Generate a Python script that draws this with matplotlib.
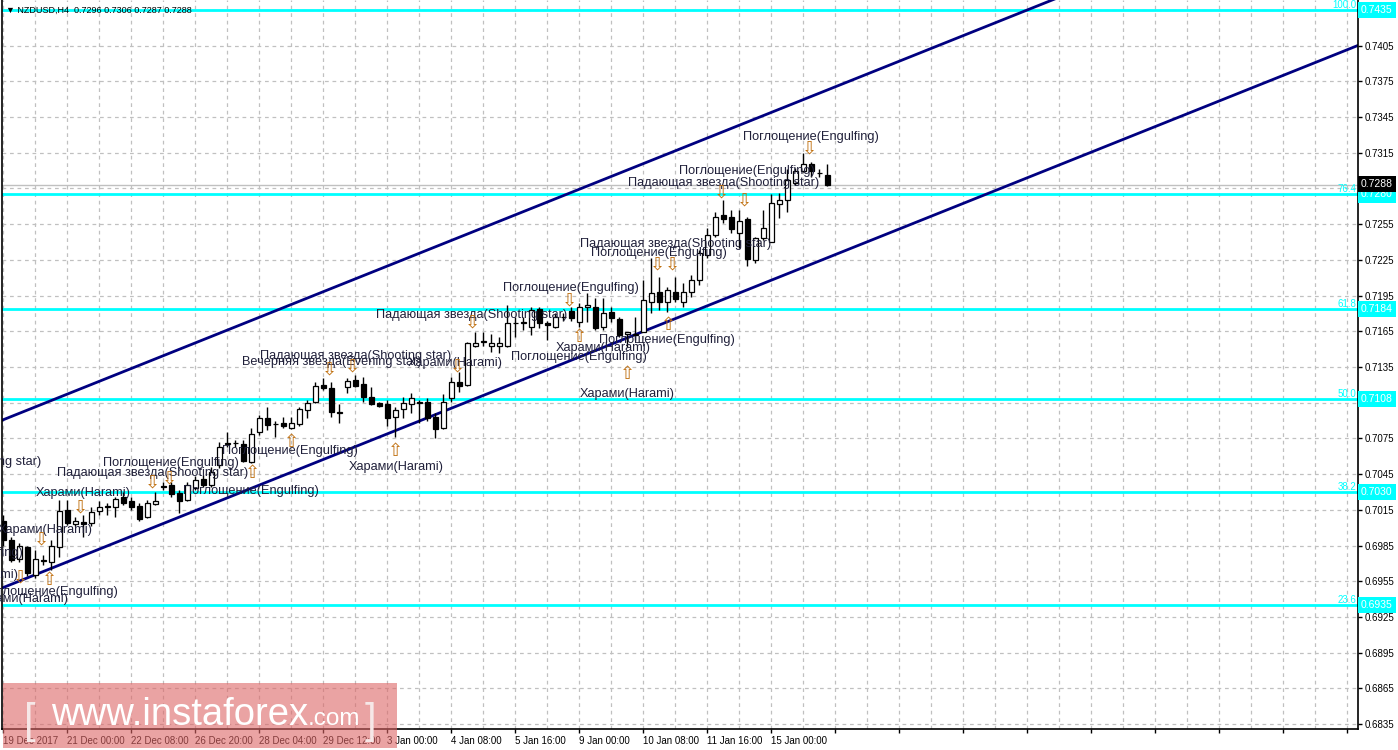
import matplotlib
matplotlib.use('Agg')
import matplotlib.pyplot as plt
import matplotlib.transforms as mtransforms
from matplotlib.patches import Rectangle
import numpy as np

# NZDUSD H4 candles (oldest first)
opens = [0.7006, 0.6990, 0.6974, 0.6984, 0.6960, 0.6972, 0.6971, 0.6984, 0.7015, 0.7003,
         0.7005, 0.7004, 0.7014, 0.7017, 0.7017, 0.7026, 0.7022, 0.7018, 0.7009, 0.7020,
         0.7034, 0.7036, 0.7029, 0.7023, 0.7033, 0.7041, 0.7036, 0.7053, 0.7070, 0.7071,
         0.7070, 0.7055, 0.7080, 0.7092, 0.7087, 0.7088, 0.7084, 0.7087, 0.7099, 0.7106,
         0.7120, 0.7117, 0.7096, 0.7118, 0.7124, 0.7121, 0.7110, 0.7105, 0.7104, 0.7093,
         0.7100, 0.7104, 0.7106, 0.7106, 0.7093, 0.7084, 0.7109, 0.7122, 0.7120, 0.7153,
         0.7156, 0.7153, 0.7153, 0.7153, 0.7172, 0.7172, 0.7169, 0.7184, 0.7172, 0.7169,
         0.7177, 0.7182, 0.7173, 0.7185, 0.7185, 0.7169, 0.7181, 0.7175, 0.7163, 0.7162,
         0.7164, 0.7190, 0.7198, 0.7190, 0.7198, 0.7190, 0.7198, 0.7208, 0.7229, 0.7246,
         0.7263, 0.7261, 0.7248, 0.7259, 0.7225, 0.7243, 0.7240, 0.7272, 0.7275, 0.7290,
         0.7300, 0.7306, 0.7298, 0.7296]
highs = [0.7011, 0.6992, 0.6987, 0.6985, 0.6981, 0.6977, 0.6990, 0.7023, 0.7023, 0.7009,
         0.7011, 0.7017, 0.7022, 0.7021, 0.7026, 0.7030, 0.7026, 0.7021, 0.7023, 0.7030,
         0.7038, 0.7038, 0.7032, 0.7038, 0.7043, 0.7044, 0.7051, 0.7072, 0.7080, 0.7074,
         0.7074, 0.7084, 0.7095, 0.7101, 0.7090, 0.7093, 0.7093, 0.7101, 0.7107, 0.7122,
         0.7126, 0.7122, 0.7104, 0.7126, 0.7128, 0.7127, 0.7118, 0.7106, 0.7107, 0.7101,
         0.7110, 0.7113, 0.7107, 0.7109, 0.7096, 0.7112, 0.7127, 0.7131, 0.7156, 0.7164,
         0.7164, 0.7163, 0.7160, 0.7187, 0.7177, 0.7177, 0.7185, 0.7185, 0.7174, 0.7180,
         0.7180, 0.7185, 0.7189, 0.7197, 0.7193, 0.7193, 0.7185, 0.7177, 0.7164, 0.7177,
         0.7208, 0.7227, 0.7211, 0.7202, 0.7211, 0.7206, 0.7212, 0.7233, 0.7252, 0.7265,
         0.7275, 0.7267, 0.7267, 0.7261, 0.7244, 0.7267, 0.7280, 0.7281, 0.7301, 0.7302,
         0.7315, 0.7307, 0.7301, 0.7306]
lows = [0.6985, 0.6971, 0.6971, 0.6959, 0.6958, 0.6969, 0.6964, 0.6975, 0.7002, 0.7001,
        0.6992, 0.7001, 0.7011, 0.7011, 0.7009, 0.7019, 0.7015, 0.7006, 0.7008, 0.7019,
        0.7032, 0.7026, 0.7012, 0.7022, 0.7032, 0.7034, 0.7034, 0.7050, 0.7068, 0.7068,
        0.7055, 0.7054, 0.7078, 0.7082, 0.7076, 0.7084, 0.7083, 0.7085, 0.7092, 0.7105,
        0.7116, 0.7093, 0.7088, 0.7113, 0.7118, 0.7106, 0.7103, 0.7101, 0.7085, 0.7076,
        0.7092, 0.7096, 0.7088, 0.7090, 0.7075, 0.7083, 0.7106, 0.7114, 0.7119, 0.7152,
        0.7153, 0.7148, 0.7147, 0.7152, 0.7160, 0.7166, 0.7162, 0.7168, 0.7158, 0.7168,
        0.7174, 0.7174, 0.7169, 0.7173, 0.7166, 0.7166, 0.7173, 0.7160, 0.7152, 0.7158,
        0.7164, 0.7180, 0.7183, 0.7181, 0.7190, 0.7185, 0.7194, 0.7204, 0.7227, 0.7244,
        0.7256, 0.7248, 0.7235, 0.7220, 0.7222, 0.7242, 0.7240, 0.7260, 0.7265, 0.7288,
        0.7299, 0.7295, 0.7295, 0.7287]
closes = [0.6990, 0.6973, 0.6985, 0.6962, 0.6974, 0.6973, 0.6985, 0.7014, 0.7004, 0.7006,
          0.7003, 0.7013, 0.7017, 0.7018, 0.7024, 0.7021, 0.7017, 0.7007, 0.7021, 0.7022,
          0.7035, 0.7028, 0.7022, 0.7036, 0.7040, 0.7036, 0.7047, 0.7068, 0.7071, 0.7071,
          0.7056, 0.7079, 0.7092, 0.7086, 0.7087, 0.7085, 0.7088, 0.7100, 0.7105, 0.7119,
          0.7117, 0.7097, 0.7097, 0.7123, 0.7119, 0.7110, 0.7104, 0.7102, 0.7092, 0.7099,
          0.7105, 0.7109, 0.7105, 0.7092, 0.7083, 0.7106, 0.7122, 0.7119, 0.7155, 0.7155,
          0.7157, 0.7155, 0.7155, 0.7172, 0.7172, 0.7173, 0.7183, 0.7172, 0.7170, 0.7177,
          0.7177, 0.7176, 0.7185, 0.7187, 0.7168, 0.7180, 0.7176, 0.7162, 0.7164, 0.7163,
          0.7191, 0.7197, 0.7190, 0.7200, 0.7192, 0.7198, 0.7208, 0.7231, 0.7246, 0.7261,
          0.7259, 0.7251, 0.7258, 0.7226, 0.7243, 0.7252, 0.7273, 0.7275, 0.7292, 0.7300,
          0.7306, 0.7300, 0.7298, 0.7288]

tick_bars = [0, 8, 16, 24, 32, 40, 48, 56, 64, 72, 80, 88, 96]
tick_labels = ['19 Dec 2017', '21 Dec 00:00', '22 Dec 08:00', '26 Dec 20:00', '28 Dec 04:00',
               '29 Dec 12:00', '3 Jan 00:00', '4 Jan 08:00', '5 Jan 16:00', '9 Jan 00:00',
               '10 Jan 08:00', '11 Jan 16:00', '15 Jan 00:00']

fib_levels = [0.7435, 0.7280, 0.7184, 0.7108, 0.7030, 0.6935]
fib_names = ['100.0', '76.4', '61.8', '50.0', '38.2', '23.6']
last_price = 0.7288

# trend channel (bar, price) end points
channel_bars = [-1, 170]
channel_lower = [0.6947, 0.7407]
channel_upper = [0.7088, 0.7548]

SS = 'Падающая звезда(Shooting star)'
EN = 'Поглощение(Engulfing)'
HA = 'Харами(Harami)'
ES = 'Вечерняя звезда(Evening star)'
pattern_names = [SS, EN, SS, HA, EN, HA, EN, HA, EN, HA, EN, SS, ES, HA, SS, HA,
                 EN, SS, EN, EN, HA, EN, HA, EN, EN, SS]
pattern_bars = [-7.2, 21.0, 18.7, 10.0, 31.0, 5.3, -6.0, -4.0, 5.8, 2.2, 35.8, 44.0, 41.1, 56.5, 58.5, 49.1,
                71.0, 84.0, 82.0, 83.0, 75.0, 72.0, 78.0, 101.0, 93.0, 90.0]
pattern_prices = [0.7055, 0.7054, 0.7046, 0.7029, 0.7031, 0.6998, 0.6979, 0.6960, 0.6946, 0.6940,
                  0.7064, 0.7144, 0.7139, 0.7138, 0.7179, 0.7051, 0.7201, 0.7238, 0.7231, 0.7158,
                  0.7151, 0.7143, 0.7112, 0.7328, 0.7300, 0.7290]

down_bars = [18.7, 20.8, 9.7, 4.8, 2.1, 40.8, 43.7, 56.8, 58.7, 70.8, 81.8, 83.7, 89.8, 92.7, 100.8]
down_prices = [0.7038, 0.7041, 0.7017, 0.6990, 0.6958, 0.7133, 0.7135, 0.7135, 0.7172, 0.7191,
               0.7221, 0.7221, 0.7282, 0.7275, 0.7319]
up_bars = [31.1, 5.8, 36.0, 49.0, 72.0, 83.1, 78.0]
up_prices = [0.7046, 0.6956, 0.7072, 0.7064, 0.7160, 0.7170, 0.7129]

W, H = 1398, 750
fig = plt.figure(figsize=(W / 100, H / 100), dpi=100)
fig.patch.set_facecolor('white')
ax = fig.add_axes([2 / W, 21 / H, 1356 / W, 729 / H])
ax.set_facecolor('white')
ax.set_xlim(-0.16, 169.34)
ax.set_ylim(0.68308, 0.74434)

fonts = ['Liberation Sans', 'DejaVu Sans']

# grid and ticks
major_x = list(range(0, 169, 8))
ax.set_xticks(major_x)
ax.set_xticklabels([tick_labels[tick_bars.index(b)] if b in tick_bars else '' for b in major_x],
                   ha='left', fontsize=7, family=fonts)
ax.set_xticks(list(range(4, 169, 8)), minor=True)
yt = [round(0.6835 + 0.003 * k, 4) for k in range(21)]
ax.set_yticks(yt)
# labels hidden behind the price boxes in MT4 are left out
ax.set_yticklabels(['' if v in (0.7435, 0.7285) else '%.4f' % v for v in yt],
                   fontsize=7, family=fonts)
ax.yaxis.tick_right()
ax.tick_params(axis='both', which='major', length=3, width=1, color='black', pad=2)
ax.tick_params(axis='x', which='minor', length=0)
ax.grid(True, which='both', axis='x', color='#c0c0c0', linestyle=(0, (3, 3)), linewidth=0.9)
ax.grid(True, which='major', axis='y', color='#c0c0c0', linestyle=(0, (3, 3)), linewidth=0.9)
ax.set_axisbelow(True)
for s in ['left', 'bottom', 'right']:
    ax.spines[s].set_color('black')
    ax.spines[s].set_linewidth(1.2)
ax.spines['top'].set_visible(False)

# bid line and fibo levels
ax.axhline(last_price, color='#c0c0c0', lw=1, zorder=1.5)
for lv in fib_levels:
    ax.axhline(lv, color='#00ffff', lw=2, zorder=1.6)

# channel
ax.plot(channel_bars, channel_lower, color='#000080', lw=2, zorder=1.7)
ax.plot(channel_bars, channel_upper, color='#000080', lw=2, zorder=1.7)

# candles
o = np.array(opens); h = np.array(highs); l = np.array(lows); c = np.array(closes)
xs = np.arange(len(o))
ax.vlines(xs, l, h, color='black', lw=1, zorder=3)
bull = c >= o
body_bot = np.minimum(o, c)
body_h = np.maximum(np.abs(c - o), 0.00002)
ax.bar(xs[bull], body_h[bull], bottom=body_bot[bull], width=0.62, color='white',
       edgecolor='black', linewidth=0.9, zorder=4)
ax.bar(xs[~bull], body_h[~bull], bottom=body_bot[~bull], width=0.62, color='black',
       edgecolor='black', linewidth=0.9, zorder=4)

# pattern labels and arrows
for name, b, p in zip(pattern_names, pattern_bars, pattern_prices):
    ax.text(b, p, name, ha='center', va='center', fontsize=9.2, color='#20203a',
            family=fonts, zorder=5)
for b, p in zip(down_bars, down_prices):
    ax.text(b, p, '\u21e9', ha='center', va='center', fontsize=13, color='#c07010',
            family=['DejaVu Sans'], zorder=5)
for b, p in zip(up_bars, up_prices):
    ax.text(b, p, '\u21e7', ha='center', va='center', fontsize=13, color='#c07010',
            family=['DejaVu Sans'], zorder=5)

# right side labels
trans = mtransforms.blended_transform_factory(ax.transAxes, ax.transData)
for lv, nm in zip(fib_levels, fib_names):
    ax.text(1 - 2 / 1356, lv, nm, transform=trans, ha='right', va='bottom', fontsize=7,
            color='#00ffff', family=fonts, zorder=6)
    ax.text(1 + 3 / 1356, lv, '%.4f' % lv, transform=trans, ha='left', va='center',
            fontsize=7.5, color='white', family=fonts, clip_on=False, zorder=7,
            bbox=dict(boxstyle='square,pad=0.3', fc='#00ffff', ec='none'))
ax.text(1 + 3 / 1356, last_price + 0.00008, '%.4f' % last_price, transform=trans, ha='left',
        va='center', fontsize=7.5, color='white', family=fonts, clip_on=False, zorder=7,
        bbox=dict(boxstyle='square,pad=0.3', fc='black', ec='none'))

# header
fig.text(6 / W, 1 - 10 / H, '\u25bc NZDUSD,H4  0.7296 0.7306 0.7287 0.7288', fontsize=6.5,
         color='black', va='center', ha='left', family=fonts)

# watermark
fig.patches.append(Rectangle((3 / W, 2 / H), 394 / W, 65 / H, transform=fig.transFigure,
                             fc='#dd6666', ec='none', alpha=0.6, zorder=10))
fig.text(24 / W, 1 - 733 / H, '[', fontsize=30, color='#f6e8e8', va='baseline', ha='left',
         family=fonts, zorder=11)
fig.text(51 / W, 1 - 725 / H, 'www.instaforex', fontsize=27.5, color='white', va='baseline',
         ha='left', family=fonts, zorder=11)
fig.text(308 / W, 1 - 725 / H, '.com', fontsize=17.5, color='white', va='baseline', ha='left',
         family=fonts, zorder=11)
fig.text(365 / W, 1 - 733 / H, ']', fontsize=30, color='#f6e8e8', va='baseline', ha='left',
         family=fonts, zorder=11)

fig.savefig('out.png', dpi=100)
